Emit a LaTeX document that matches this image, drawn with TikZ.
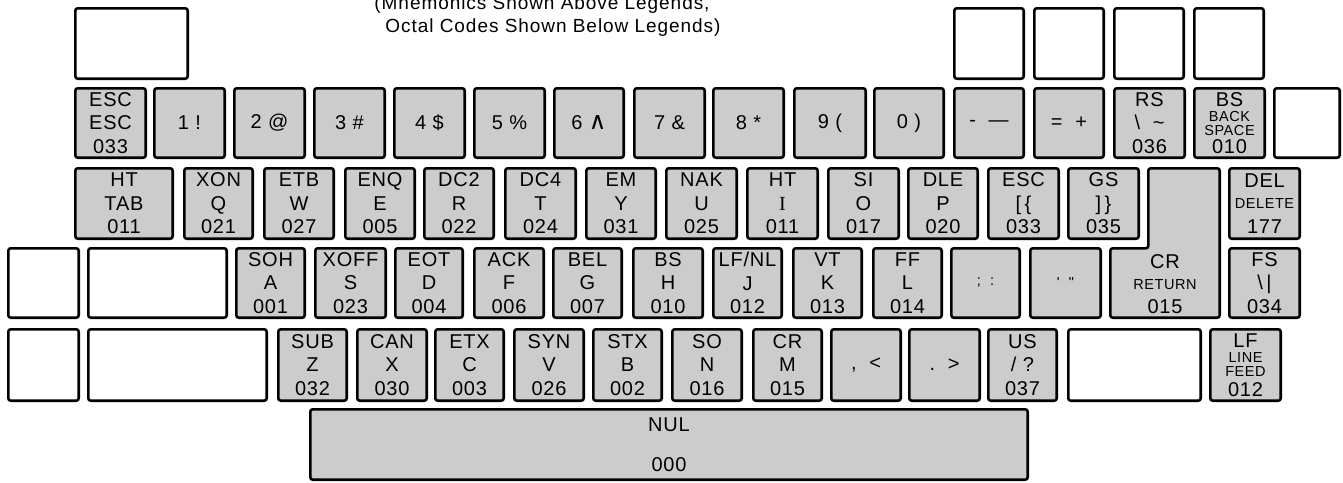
\documentclass[tikz,border=0pt]{standalone}
\usepackage{fontspec}
\setmainfont{Liberation Sans}
\newfontfamily\kf[LetterSpace=4]{Liberation Sans}
\newfontfamily\tf[LetterSpace=5]{Liberation Sans}
\newfontfamily\dv{DejaVu Sans}
\newfontfamily\serf{Liberation Serif}
\newcommand\sk{\fontsize{14.5}{15}\selectfont}
\tikzset{
  keybase/.style={draw=black, line width=2.6pt, rounded corners=2.5pt, inner sep=0pt,
    align=center, font=\kf\fontsize{20}{23.5}\selectfont, text=black},
  gk/.style={keybase, fill=black!20},
  wk/.style={keybase, fill=white},
  lbl/.style={inner sep=0pt, align=center, font=\kf\fontsize{20}{23.5}\selectfont},
  ttl/.style={inner sep=0pt, anchor=base, font=\tf\fontsize{19}{23}\selectfont},
}
\newcommand\K[7]{\node[#6, minimum width={(#4-#2-2.6)*1pt}, minimum height={(#5-#3-2.6)*1pt}] (#1) at ({(#2+#4)/2},{-(#3+#5)/2}) {#7};}
\begin{document}
\begin{tikzpicture}[x=1pt,y=1pt]
\useasboundingbox (0,0) rectangle (1343,-482);
\clip (0,0) rectangle (1343,-482);
% title
\node[ttl] (t1) at (542,-9) {(Mnemonics Shown Above Legends,};
\node[ttl] (t2) at (553,-32) {Octal Codes Shown Below Legends)};
% row 0
\K{f0}{74}{7}{189}{80}{wk}{}
\K{f1}{953}{7}{1025}{80}{wk}{}
\K{f2}{1033}{7}{1105}{80}{wk}{}
\K{f3}{1113}{7}{1185}{80}{wk}{}
\K{f4}{1193}{7}{1265}{80}{wk}{}
% row 1
\K{esc}{74}{87}{147}{159}{gk}{ESC\\ESC\\033}
\K{k1}{153}{87}{226}{159}{gk}{1\ !}
\K{k2}{233}{87}{306}{159}{gk}{2 @}
\K{k3}{313}{87}{386}{159}{gk}{3 \#}
\K{k4}{393}{87}{466}{159}{gk}{4 \$}
\K{k5}{473}{87}{546}{159}{gk}{5 \%}
\K{k6}{553}{87}{625}{159}{gk}{6 {\dv\fontsize{24}{24}\selectfont ∧}}
\K{k7}{633}{87}{706}{159}{gk}{7 \&}
\K{k8}{712}{87}{785}{159}{gk}{8 *}
\K{k9}{793}{87}{867}{159}{gk}{9 (}
\K{k0}{873}{87}{945}{159}{gk}{0 )}
\K{kmin}{953}{87}{1025}{159}{gk}{-\ \ —}
\K{keq}{1033}{87}{1105}{159}{gk}{=\ \ +}
\K{rs}{1113}{87}{1186}{159}{gk}{RS\\\textbackslash\ \ \textasciitilde\\036}
\K{bs}{1193}{87}{1266}{159}{gk}{BS\\[-8.5pt]{\sk BACK}\\[-9.5pt]{\sk SPACE}\\[-5.5pt]010}
\K{wr1}{1273}{87}{1341}{159}{wk}{}
% row 2
\K{tab}{74}{167}{174}{240}{gk}{HT\\TAB\\011}
\K{q}{183}{167}{254}{240}{gk}{XON\\Q\\021}
\K{w}{263}{167}{335}{240}{gk}{ETB\\W\\027}
\K{e}{344}{167}{416}{240}{gk}{ENQ\\E\\005}
\K{r}{423}{167}{495}{240}{gk}{DC2\\R\\022}
\K{t}{504}{167}{577}{240}{gk}{DC4\\T\\024}
\K{y}{585}{167}{657}{240}{gk}{EM\\Y\\031}
\K{u}{665}{167}{738}{240}{gk}{NAK\\U\\025}
\K{i}{746}{167}{819}{240}{gk}{HT\\{\serf I}\\011}
\K{o}{827}{167}{900}{240}{gk}{SI\\O\\017}
\K{p}{907}{167}{979}{240}{gk}{DLE\\P\\020}
\K{lbr}{987}{167}{1060}{240}{gk}{ESC\\{[\,\{}\\033}
\K{rbr}{1067}{167}{1140}{240}{gk}{GS\\{]\,\}}\\035}
\K{del}{1228}{167}{1301}{240}{gk}{DEL\\[-2pt]{\sk DELETE}\\[1pt]177}
% return key (L shape)
\draw[line width=2.6pt, rounded corners=2.5pt, fill=black!20]
  (1148.3,-168.3) -- (1219.7,-168.3) -- (1219.7,-317.7) -- (1110.3,-317.7)
  -- (1110.3,-248.3) -- (1148.3,-248.3) -- cycle;
\node[lbl] (cr) at (1165,-284) {CR\\[-2pt]{\sk RETURN}\\015};
% row 3
\K{wl3}{7}{247}{80}{319}{wk}{}
\K{wl3b}{87}{247}{228}{319}{wk}{}
\K{a}{235}{247}{306}{319}{gk}{SOH\\A\\001}
\K{s}{314}{247}{387}{319}{gk}{XOFF\\S\\023}
\K{d}{394}{247}{464}{319}{gk}{EOT\\D\\004}
\K{f}{473}{247}{545}{319}{gk}{ACK\\F\\006}
\K{g}{552}{247}{623}{319}{gk}{BEL\\G\\007}
\K{h}{632}{247}{704}{319}{gk}{BS\\H\\010}
\K{j}{712}{247}{783}{319}{gk}{LF/NL\\J\\012}
\K{k}{792}{247}{863}{319}{gk}{VT\\K\\013}
\K{l}{872}{247}{943}{319}{gk}{FF\\L\\014}
\K{semi}{950}{247}{1021}{319}{gk}{{\sk ;\ \ :}}
\K{quote}{1029}{247}{1102}{319}{gk}{{\sk \textquotesingle\ \ \textquotedbl}}
\K{fs}{1228}{247}{1301}{319}{gk}{FS\\\textbackslash\,|\\034}
% row 4
\K{wl4}{7}{328}{80}{402}{wk}{}
\K{wl4b}{87}{328}{268}{402}{wk}{}
\K{z}{277}{328}{348}{402}{gk}{SUB\\Z\\032}
\K{x}{356}{328}{428}{402}{gk}{CAN\\X\\030}
\K{c}{434}{328}{505}{402}{gk}{ETX\\C\\003}
\K{v}{513}{328}{585}{402}{gk}{SYN\\V\\026}
\K{b}{592}{328}{663}{402}{gk}{STX\\B\\002}
\K{n}{671}{328}{743}{402}{gk}{SO\\N\\016}
\K{m}{752}{328}{823}{402}{gk}{CR\\M\\015}
\K{comma}{830}{328}{902}{402}{gk}{,\ \ <}
\K{period}{908}{328}{981}{402}{gk}{.\ \ >}
\K{slash}{987}{328}{1058}{402}{gk}{US\\/\ ?\\037}
\K{wr4}{1067}{328}{1202}{402}{wk}{}
\K{lf}{1209}{328}{1282}{402}{gk}{LF\\[-8.5pt]{\sk LINE}\\[-9.5pt]{\sk FEED}\\[-3.5pt]012}
% space bar
\K{nul}{309}{408}{1029}{481}{gk}{NUL\\[16pt]000}
\end{tikzpicture}
\end{document}
